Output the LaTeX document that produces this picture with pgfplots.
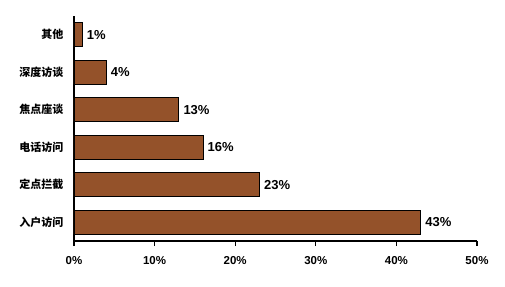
\documentclass[border=0pt]{standalone}
\usepackage{pgfplots}
\pgfplotsset{compat=1.18}
\usepackage{fontspec}
\setmainfont{Liberation Sans}
\newfontfamily\cjk{Noto Sans CJK SC}
\definecolor{wood}{RGB}{148,82,42}
\begin{document}
\begin{tikzpicture}[x=1pt,y=1pt]
\useasboundingbox (-74,-45) rectangle (431,241);
\begin{axis}[
  at={(0,0)}, anchor=south west,
  scale only axis, width=403pt, height=225pt,
  xbar, bar width=24pt,
  xmin=0, xmax=50,
  ymin=-0.5, ymax=5.5,
  ytick={0,1,2,3,4,5},
  yticklabels={入户访问,定点拦截,电话访问,焦点座谈,深度访谈,其他},
  yticklabel style={font=\cjk\bfseries\fontsize{11}{11}\selectfont, xshift=-2pt},
  y tick style={draw=none},
  xtick={0,10,20,30,40,50},
  xticklabel={\pgfmathprintnumber{\tick}\%},
  xticklabel style={font=\bfseries\fontsize{11.5}{12}\selectfont, yshift=-7pt},
  /pgf/number format/assume math mode=true,
  tick align=outside, major tick length=5pt,
  axis x line*=bottom, axis y line*=left,
  axis line style={line width=1.2pt},
  x tick style={line width=1.2pt,black},
  nodes near coords={\pgfmathprintnumber{\pgfplotspointmeta}\%},
  nodes near coords style={font=\bfseries\fontsize{13}{13}\selectfont, anchor=west, xshift=1pt},
  point meta=x,
]
\addplot[fill=wood, draw=black, thick] coordinates {(43,0) (23,1) (16,2) (13,3) (4,4) (1,5)};
\end{axis}
\end{tikzpicture}
\end{document}
